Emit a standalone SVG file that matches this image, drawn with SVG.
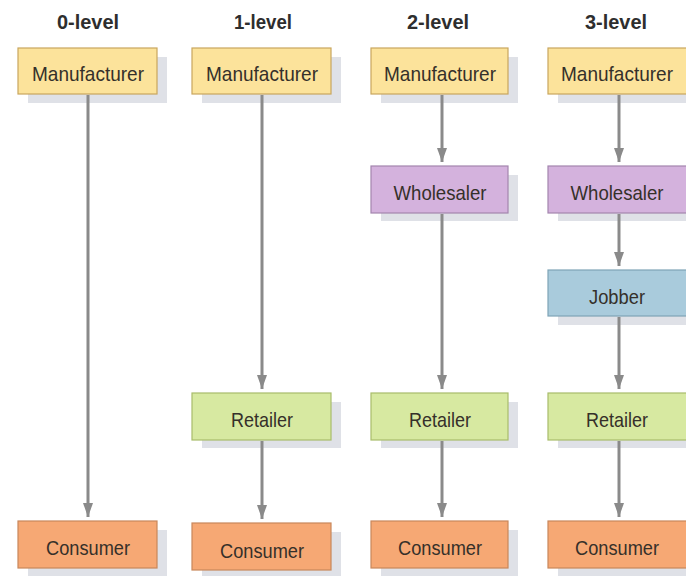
<svg xmlns="http://www.w3.org/2000/svg" width="686" height="576" viewBox="0 0 686 576">
<defs>
<marker id="ah" viewBox="0 0 14 10" refX="14" refY="5" markerWidth="14" markerHeight="10" markerUnits="userSpaceOnUse" orient="auto">
<path d="M0,0 L14,5 L0,10 Z" fill="#8a8a8a"/>
</marker>
</defs>
<style>
.title{font-family:"Liberation Sans",Arial,sans-serif;font-weight:bold;font-size:21px;fill:#2e2e2e;text-anchor:middle}
.lbl{font-family:"Liberation Sans",Arial,sans-serif;font-size:21px;fill:#35302a;text-anchor:middle}
.sh{fill:#dfe1e7}
.mfr{fill:#fce39b;stroke:#c9a65e;stroke-width:1.2}
.whl{fill:#d4b2dd;stroke:#a385ae;stroke-width:1.2}
.job{fill:#a9cbdc;stroke:#7fa4b6;stroke-width:1.2}
.ret{fill:#d7e9a1;stroke:#a8bc6b;stroke-width:1.2}
.con{fill:#f6a874;stroke:#c9875b;stroke-width:1.2}
.ln{stroke:#8a8a8a;stroke-width:3;fill:none;marker-end:url(#ah)}
</style>
<rect width="686" height="576" fill="#ffffff"/>
<g id="titles">
<text class="title" x="88" y="29" textLength="62" lengthAdjust="spacingAndGlyphs">0-level</text>
<text class="title" x="263" y="29" textLength="58" lengthAdjust="spacingAndGlyphs">1-level</text>
<text class="title" x="438" y="29" textLength="62" lengthAdjust="spacingAndGlyphs">2-level</text>
<text class="title" x="616" y="29" textLength="62" lengthAdjust="spacingAndGlyphs">3-level</text>
</g>
<g id="m0"><rect class="sh" x="28" y="57" width="139" height="46"/><rect class="mfr" x="18" y="48" width="139" height="46"/><text class="lbl" x="88" y="81" textLength="112" lengthAdjust="spacingAndGlyphs">Manufacturer</text></g>
<g id="c0"><rect class="sh" x="28" y="530" width="139" height="46"/><rect class="con" x="18" y="521" width="139" height="47"/><text class="lbl" x="88" y="555" textLength="84" lengthAdjust="spacingAndGlyphs">Consumer</text></g>
<g id="m1"><rect class="sh" x="202" y="57" width="139" height="46"/><rect class="mfr" x="192" y="48" width="139" height="46"/><text class="lbl" x="262" y="81" textLength="112" lengthAdjust="spacingAndGlyphs">Manufacturer</text></g>
<g id="r1"><rect class="sh" x="202" y="402" width="139" height="46"/><rect class="ret" x="192" y="393" width="139" height="47"/><text class="lbl" x="262" y="427" textLength="62" lengthAdjust="spacingAndGlyphs">Retailer</text></g>
<g id="c1"><rect class="sh" x="202" y="532" width="139" height="46"/><rect class="con" x="192" y="523" width="139" height="47"/><text class="lbl" x="262" y="558" textLength="84" lengthAdjust="spacingAndGlyphs">Consumer</text></g>
<g id="m2"><rect class="sh" x="381" y="57" width="137" height="46"/><rect class="mfr" x="371" y="48" width="137" height="46"/><text class="lbl" x="440" y="81" textLength="112" lengthAdjust="spacingAndGlyphs">Manufacturer</text></g>
<g id="w2"><rect class="sh" x="381" y="175" width="137" height="46"/><rect class="whl" x="371" y="166" width="137" height="47"/><text class="lbl" x="440" y="200" textLength="93" lengthAdjust="spacingAndGlyphs">Wholesaler</text></g>
<g id="r2"><rect class="sh" x="381" y="402" width="137" height="46"/><rect class="ret" x="371" y="393" width="137" height="47"/><text class="lbl" x="440" y="427" textLength="62" lengthAdjust="spacingAndGlyphs">Retailer</text></g>
<g id="c2"><rect class="sh" x="381" y="530" width="137" height="46"/><rect class="con" x="371" y="521" width="137" height="47"/><text class="lbl" x="440" y="555" textLength="84" lengthAdjust="spacingAndGlyphs">Consumer</text></g>
<g id="m3"><rect class="sh" x="558" y="57" width="139" height="46"/><rect class="mfr" x="548" y="48" width="139" height="46"/><text class="lbl" x="617" y="81" textLength="112" lengthAdjust="spacingAndGlyphs">Manufacturer</text></g>
<g id="w3"><rect class="sh" x="558" y="175" width="139" height="46"/><rect class="whl" x="548" y="166" width="139" height="47"/><text class="lbl" x="617" y="200" textLength="93" lengthAdjust="spacingAndGlyphs">Wholesaler</text></g>
<g id="j3"><rect class="sh" x="558" y="279" width="139" height="46"/><rect class="job" x="548" y="270" width="139" height="46"/><text class="lbl" x="617" y="304" textLength="56" lengthAdjust="spacingAndGlyphs">Jobber</text></g>
<g id="r3"><rect class="sh" x="558" y="402" width="139" height="46"/><rect class="ret" x="548" y="393" width="139" height="47"/><text class="lbl" x="617" y="427" textLength="62" lengthAdjust="spacingAndGlyphs">Retailer</text></g>
<g id="c3"><rect class="sh" x="558" y="530" width="139" height="46"/><rect class="con" x="548" y="521" width="139" height="47"/><text class="lbl" x="617" y="555" textLength="84" lengthAdjust="spacingAndGlyphs">Consumer</text></g>
<g id="connectors">
<line class="ln" x1="88" y1="95" x2="88" y2="517"/>
<line class="ln" x1="262" y1="95" x2="262" y2="389"/>
<line class="ln" x1="262" y1="441" x2="262" y2="519"/>
<line class="ln" x1="442" y1="95" x2="442" y2="162"/>
<line class="ln" x1="442" y1="214" x2="442" y2="389"/>
<line class="ln" x1="442" y1="441" x2="442" y2="517"/>
<line class="ln" x1="619" y1="95" x2="619" y2="162"/>
<line class="ln" x1="619" y1="214" x2="619" y2="266"/>
<line class="ln" x1="619" y1="317" x2="619" y2="389"/>
<line class="ln" x1="619" y1="441" x2="619" y2="517"/>
</g>
</svg>
